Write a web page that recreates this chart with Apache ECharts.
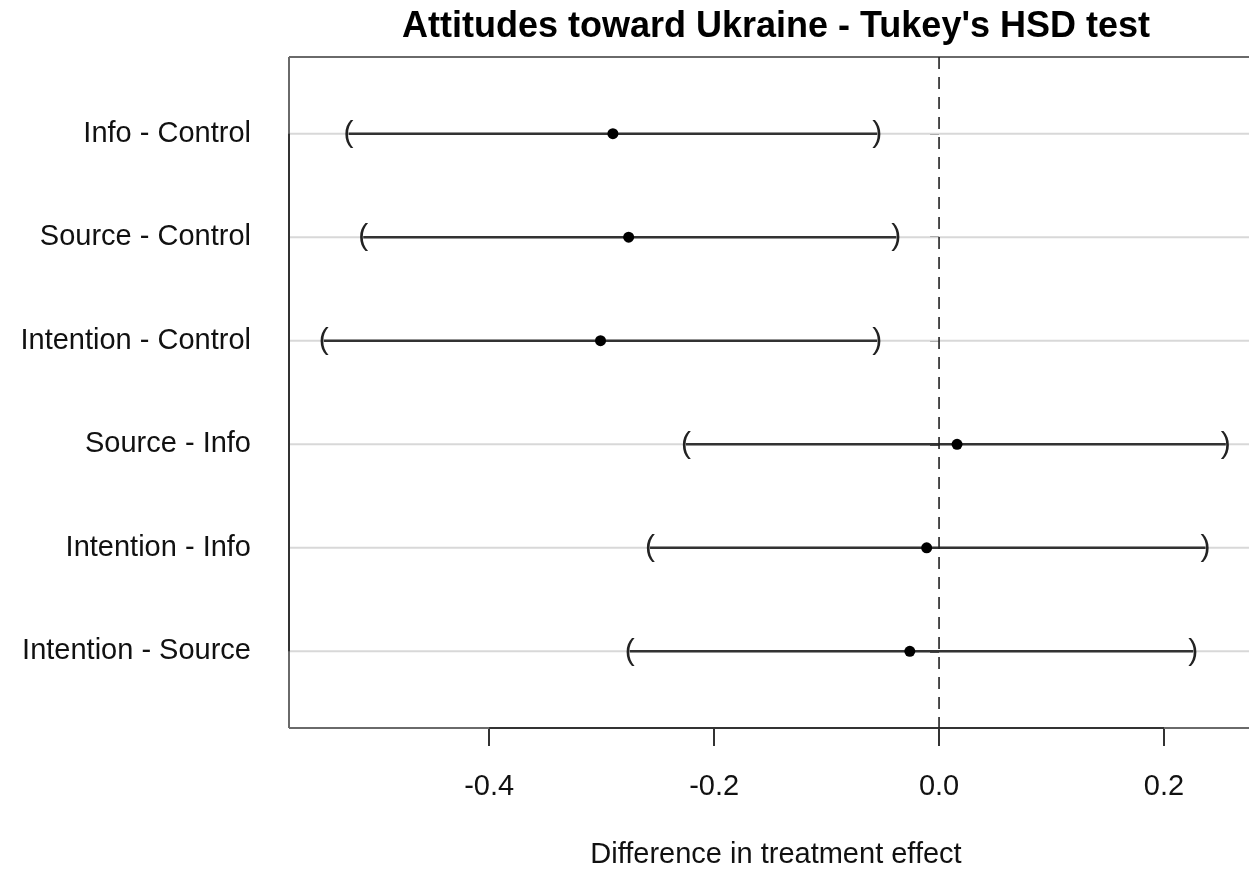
<!DOCTYPE html>
<html><head><meta charset="utf-8">
<script src="https://cdn.jsdelivr.net/npm/echarts@6/dist/echarts.min.js"></script>
<style>html,body{margin:0;padding:0;background:#fff}#c{width:1249px;height:871px}</style>
</head><body><div id="c"></div>
<script>
const comparisons = ['Info - Control','Source - Control','Intention - Control','Source - Info','Intention - Info','Intention - Source'];
const estimates = [-0.290,-0.276,-0.301,0.016,-0.011,-0.026];
const lowers = [-0.525,-0.512,-0.547,-0.225,-0.257,-0.275];
const uppers = [-0.055,-0.038,-0.055,0.255,0.237,0.226];
const xTicks = [-0.4,-0.2,0.0,0.2];
const refLine = 0;
const titleText = "Attitudes toward Ukraine - Tukey's HSD test";
const xLabel = 'Difference in treatment effect';

const FONT = '"Liberation Sans", Arial, Helvetica, sans-serif';
const n = comparisons.length;
const rowPos = comparisons.map((c, i) => n - i);
const ciData = comparisons.map((c, i) => [estimates[i], rowPos[i], lowers[i], uppers[i]]);

const chart = echarts.init(document.getElementById('c'), null, {renderer: 'canvas'});
chart.setOption({
  animation: false,
  backgroundColor: '#fff',
  grid: {left: 289, top: 57, right: 0, bottom: 143, show: false},
  xAxis: {
    type: 'value', min: -0.578, max: 0.2756,
    axisLine: {show: false},
    splitLine: {show: false},
    axisTick: {show: true, customValues: xTicks, length: 18, lineStyle: {color: '#333', width: 2}},
    axisLabel: {customValues: xTicks, margin: 44, formatter: v => v.toFixed(1), fontFamily: FONT, fontSize: 29, color: '#111'}
  },
  yAxis: {
    type: 'value', min: 0.26, max: 6.74,
    axisLine: {show: false},
    splitLine: {show: false},
    axisTick: {show: true, customValues: rowPos, length: 9, lineStyle: {color: '#333', width: 2}},
    axisLabel: {customValues: rowPos, margin: 38, padding: [7, 0, 0, 0], formatter: v => comparisons[n - Math.round(v)], fontFamily: FONT, fontSize: 29, color: '#111'}
  },
  graphic: [
    {type: 'text', z: 100, style: {text: titleText, x: 776, y: 27, align: 'center', verticalAlign: 'middle', font: 'bold 36px ' + FONT, fill: '#000'}},
    {type: 'text', z: 100, style: {text: xLabel, x: 776, y: 855, align: 'center', verticalAlign: 'middle', font: '29px ' + FONT, fill: '#111'}}
  ],
  series: [
    {
      type: 'custom', name: 'frame', silent: true, z: 5,
      data: [[refLine, 1]],
      renderItem: function (params, api) {
        const cs = params.coordSys;
        const bottom = cs.y + cs.height;
        const right = cs.x + cs.width;
        const xa = api.coord([xTicks[0], 1])[0];
        const xb = api.coord([xTicks[xTicks.length - 1], 1])[0];
        const ya = api.coord([0, rowPos[0]])[1];
        const yb = api.coord([0, rowPos[rowPos.length - 1]])[1];
        const x0 = api.coord([api.value(0), 1])[0];
        return {type: 'group', children: [
          {type: 'line', shape: {x1: cs.x, y1: cs.y, x2: right + 5, y2: cs.y}, style: {stroke: '#6a6a6a', lineWidth: 2}},
          {type: 'line', shape: {x1: cs.x, y1: cs.y, x2: cs.x, y2: bottom}, style: {stroke: '#6a6a6a', lineWidth: 2}},
          {type: 'line', shape: {x1: cs.x, y1: bottom, x2: right + 5, y2: bottom}, style: {stroke: '#6a6a6a', lineWidth: 2}},
          {type: 'line', shape: {x1: xa, y1: bottom, x2: xb, y2: bottom}, style: {stroke: '#333', lineWidth: 2}},
          {type: 'line', shape: {x1: cs.x, y1: ya, x2: cs.x, y2: yb}, style: {stroke: '#333', lineWidth: 2}},
          {type: 'line', shape: {x1: x0, y1: cs.y, x2: x0, y2: bottom}, style: {stroke: '#222', lineWidth: 1.6, lineDash: [12, 8]}}
        ]};
      }
    },
    {
      type: 'custom', name: 'ci', z: 3, clip: false,
      data: ciData,
      encode: {x: [0, 2, 3], y: 1},
      renderItem: function (params, api) {
        const cs = params.coordSys;
        const y = api.coord([0, api.value(1)])[1];
        const xe = api.coord([api.value(0), 0])[0];
        const xl = api.coord([api.value(2), 0])[0];
        const xu = api.coord([api.value(3), 0])[0];
        return {type: 'group', children: [
          {type: 'line', shape: {x1: cs.x, y1: y, x2: cs.x + cs.width + 5, y2: y}, style: {stroke: '#d8d8d8', lineWidth: 2}},
          {type: 'line', shape: {x1: xl, y1: y, x2: xu, y2: y}, style: {stroke: '#333', lineWidth: 2.5}},
          {type: 'circle', shape: {cx: xe, cy: y, r: 5.5}, style: {fill: '#000'}},
          {type: 'text', style: {text: '(', x: xl, y: y, align: 'center', verticalAlign: 'middle', font: '30px ' + FONT, fill: '#222'}},
          {type: 'text', style: {text: ')', x: xu, y: y, align: 'center', verticalAlign: 'middle', font: '30px ' + FONT, fill: '#222'}}
        ]};
      }
    }
  ]
});
</script>
</body></html>
